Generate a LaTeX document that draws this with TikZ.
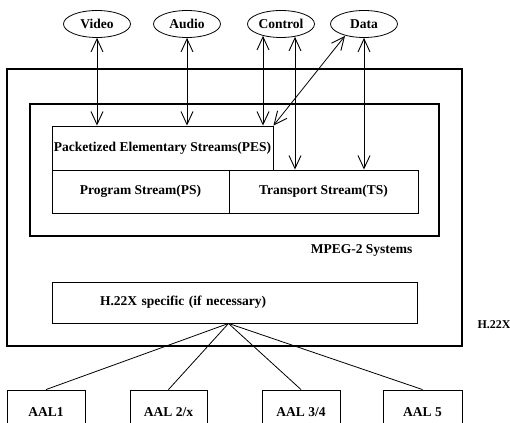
\documentclass[tikz,border=0pt]{standalone}
\usepackage{fontspec}
\setmainfont{Liberation Serif}
\usetikzlibrary{shapes,arrows.meta}

\begin{document}
\begin{tikzpicture}[x=1pt,y=-1pt,
                >={Straight Barb[length=13pt,width=12pt,line width=0.9pt]},
                every node/.style={font=\fontsize{13.5}{15}\selectfont\bfseries},
                src/.style={draw,ellipse,minimum width=67pt,minimum height=27pt,inner sep=0pt,line width=0.8pt},
                blk/.style={draw,rectangle,inner sep=0pt,line width=0.9pt},
                link/.style={line width=0.8pt}]
  \useasboundingbox (0,0) rectangle (510,422);
  \clip (0,0) rectangle (510,422);
  % sources
  \node[src]  (video)   at (97,24)  {Video};
  \node[src]  (audio)   at (187,24) {Audio};
  \node[src]  (control) at (281,24) {Control};
  \node[src]  (data)    at (364,24) {Data};
  % H.22X frame and MPEG-2 systems
  \node[blk,line width=1.5pt,minimum width=455pt,minimum height=277pt] (sys)  at (234.5,207.5) {};
  \node[blk,line width=2pt,minimum width=409pt,minimum height=132pt]   (mpeg) at (234.5,170) {};
  \node[blk,minimum width=221pt,minimum height=44pt] (pes) at (162.5,148)   {Packetized Elementary Streams(PES)};
  \node[blk,minimum width=177pt,minimum height=43pt] (ps)  at (140.5,191.5) {Program Stream(PS)};
  \node[blk,minimum width=189pt,minimum height=43pt] (ts)  at (323.5,191.5) {Transport Stream(TS)};
  \node[anchor=north east] (mpeglbl) at ([xshift=-24pt,yshift=-4pt]mpeg.south east) {MPEG-2 Systems};
  \node[blk,minimum height=41pt,text width=269pt,align=left,inner xsep=48pt] (spec) at (234.5,302.5) {H.22X specific (if necessary)};
  \node[anchor=west,font=\fontsize{12}{14}\selectfont\bfseries] (syslbl) at (474,325) {H.22X};
  % adaptation layers
  \node[blk,minimum width=78pt,minimum height=44pt] (aal1)  at (46,412)    {AAL1};
  \node[blk,minimum width=77pt,minimum height=44pt] (aal2)  at (168.5,412) {AAL 2/x};
  \node[blk,minimum width=78pt,minimum height=44pt] (aal34) at (301,412)   {AAL 3/4};
  \node[blk,minimum width=79pt,minimum height=44pt] (aal5)  at (422.5,412) {AAL 5};
  % streams
  \draw[link,<->] (video.south) -- (video.south |- pes.north);
  \draw[link,<->] (audio.south) -- (audio.south |- pes.north);
  \draw[link,<->] ([xshift=-18pt,yshift=2pt]control.south) -- ([xshift=-18pt]control.south |- pes.north);
  \draw[link,<->] ([xshift=14pt,yshift=1pt]control.south) -- ([xshift=14pt]control.south |- ts.north);
  \draw[link,<->] ([xshift=-19pt,yshift=2pt]data.south) -- (pes.north east);
  \draw[link,<->] (data.south) -- (data.south |- ts.north);
  % fan out
  \draw[link] ([xshift=-6pt]spec.south) -- (aal1.north);
  \draw[link] ([xshift=-6pt]spec.south) -- (aal2.north);
  \draw[link] ([xshift=-6pt]spec.south) -- (aal34.north);
  \draw[link] ([xshift=-6pt]spec.south) -- (aal5.north);
\end{tikzpicture}
\end{document}
